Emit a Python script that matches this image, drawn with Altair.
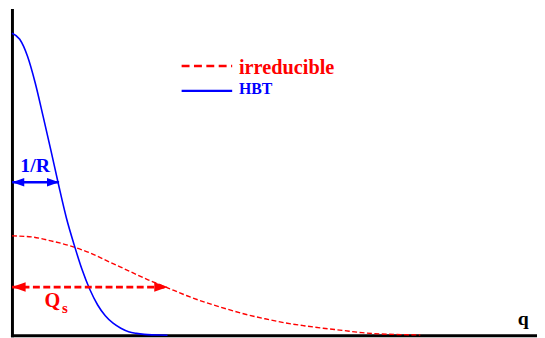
import altair as alt
import pandas as pd

# HBT correlation curve (blue, solid); q measured from the vertical axis
hbt_q = [0, 8, 16, 24, 32, 40, 48, 56, 64, 72, 80, 88, 96, 104, 112, 120, 128, 136, 144, 152, 160]
hbt_v = [302.5, 296.5, 279.5, 252.5, 219.5, 185.5, 150.5, 117.5, 90.5, 66, 46, 30.5, 19.5,
         12, 7, 3.5, 1.8, 0.8, 0.3, 0.1, 0]

# irreducible curve (red, dashed)
irr_q = [0, 20, 40, 60, 80, 100, 120, 140, 160, 180, 200, 220, 240, 260, 280, 300, 320, 340,
         360, 380, 400, 420]
irr_v = [99.5, 98.5, 94.5, 89.5, 82.5, 73.5, 64.5, 55.5, 47.5, 39.5, 32.5, 26.5, 21, 16.5,
         12.5, 9.5, 7, 4.8, 2.5, 1.2, 0.6, 0.3]

# double-headed width arrows: 1/R (blue) and Q_s (red)
arrow_names = ["1/R", "Q_s"]
arrow_x0 = [0.2, 0.2]
arrow_x1 = [48.5, 160.2]
arrow_y = [153.2, 48.2]

# legend entries
legend_labels = ["irreducible", "HBT"]
legend_colors = ["#ff0000", "#0000ff"]
legend_x0 = [174.5, 174.5]
legend_x1 = [226.5, 226.5]
legend_line_y = [269.8, 244.8]
legend_text_x = [233.5, 233.5]
legend_text_y = [262.2, 241.5]
legend_text_size = [20.5, 16]

X_MAX = 540
Y_MAX = 326

xs = alt.Scale(domain=[0, X_MAX], nice=False, zero=False)
ys = alt.Scale(domain=[0, Y_MAX], nice=False, zero=False)
ax = alt.Axis(domain=True, domainColor="black", domainWidth=3, domainCap="square",
              ticks=False, labels=False, grid=False, title=None, minExtent=0)

def X(f="x"):
    return alt.X(f + ":Q", scale=xs, axis=ax)

def Y(f="y"):
    return alt.Y(f + ":Q", scale=ys, axis=ax)

hbt_df = pd.DataFrame({"x": hbt_q, "y": hbt_v})
irr_df = pd.DataFrame({"x": irr_q, "y": irr_v})

red_curve = alt.Chart(irr_df).mark_line(
    color="#ff0000", strokeWidth=1.4, strokeDash=[5, 2.5], interpolate="monotone"
).encode(x=X(), y=Y())

blue_curve = alt.Chart(hbt_df).mark_line(
    color="#0000ff", strokeWidth=1.6, interpolate="monotone"
).encode(x=X(), y=Y())

arr_df = pd.DataFrame({"name": arrow_names, "x": arrow_x0, "x2": arrow_x1, "y": arrow_y})

blue_arrow_line = alt.Chart(arr_df[arr_df.name == "1/R"]).mark_rule(
    color="#0000ff", strokeWidth=2.5
).encode(x=X(), x2="x2:Q", y=Y())
red_arrow_line = alt.Chart(arr_df[arr_df.name == "Q_s"]).mark_rule(
    color="#ff0000", strokeWidth=2.8, strokeDash=[7, 3.5]
).encode(x=X(), x2="x2:Q", y=Y())

RIGHT = "M0,0 L-2,-0.7 L-2,0.7 Z"
LEFT = "M0,0 L2,-0.7 L2,0.7 Z"

def heads(name, color, size):
    d = arr_df[arr_df.name == name]
    left = alt.Chart(d).mark_point(shape=LEFT, filled=True, color=color, size=size,
                                   opacity=1, strokeWidth=0).encode(x=X("x"), y=Y())
    right = alt.Chart(d).mark_point(shape=RIGHT, filled=True, color=color, size=size,
                                    opacity=1, strokeWidth=0).encode(x=X("x2"), y=Y())
    return left + right

blue_heads = heads("1/R", "#0000ff", 150)
red_heads = heads("Q_s", "#ff0000", 185)

FONT = "Liberation Serif"

# annotation labels
lab_df = pd.DataFrame({
    "t": ["1/R", "Q", "s", "q"],
    "x": [23.8, 33.5, 51.5, 520.2],
    "y": [163.8, 28.5, 22.5, 10.5],
    "c": ["#0000ff", "#ff0000", "#ff0000", "#000000"],
    "s": [20, 20.5, 15, 20],
    "a": ["center", "left", "left", "left"],
})

def label(i):
    r = lab_df.iloc[[i]]
    return alt.Chart(r).mark_text(
        font=FONT, fontWeight="bold", fontSize=float(r.s.iloc[0]), color=r.c.iloc[0],
        align=r.a.iloc[0], baseline="alphabetic"
    ).encode(x=X(), y=Y(), text="t:N")

labels = [label(i) for i in range(len(lab_df))]

leg_df = pd.DataFrame({"label": legend_labels, "color": legend_colors,
                       "x": legend_x0, "x2": legend_x1, "y": legend_line_y,
                       "tx": legend_text_x, "ty": legend_text_y, "fs": legend_text_size})

leg_red_line = alt.Chart(leg_df.iloc[[0]]).mark_rule(
    color="#ff0000", strokeWidth=2.5, strokeDash=[8, 4.5]
).encode(x=X(), x2="x2:Q", y=Y())
leg_blue_line = alt.Chart(leg_df.iloc[[1]]).mark_rule(
    color="#0000ff", strokeWidth=2.2
).encode(x=X(), x2="x2:Q", y=Y())

def leg_text(i):
    r = leg_df.iloc[[i]]
    return alt.Chart(r).mark_text(
        font=FONT, fontWeight="bold", fontSize=float(r.fs.iloc[0]), color=r.color.iloc[0],
        align="left", baseline="alphabetic"
    ).encode(x=X("tx"), y=Y("ty"), text="label:N")

chart = alt.layer(
    red_curve, blue_curve,
    red_arrow_line, blue_arrow_line, blue_heads, red_heads,
    leg_red_line, leg_blue_line, leg_text(0), leg_text(1),
    *labels,
).properties(
    width=535, height=333,
    autosize=alt.AutoSizeParams(type="fit", contains="padding"),
    padding=0,
).configure_view(stroke=None)

chart.save("out.html", embed_options={"renderer": "svg", "actions": False})
